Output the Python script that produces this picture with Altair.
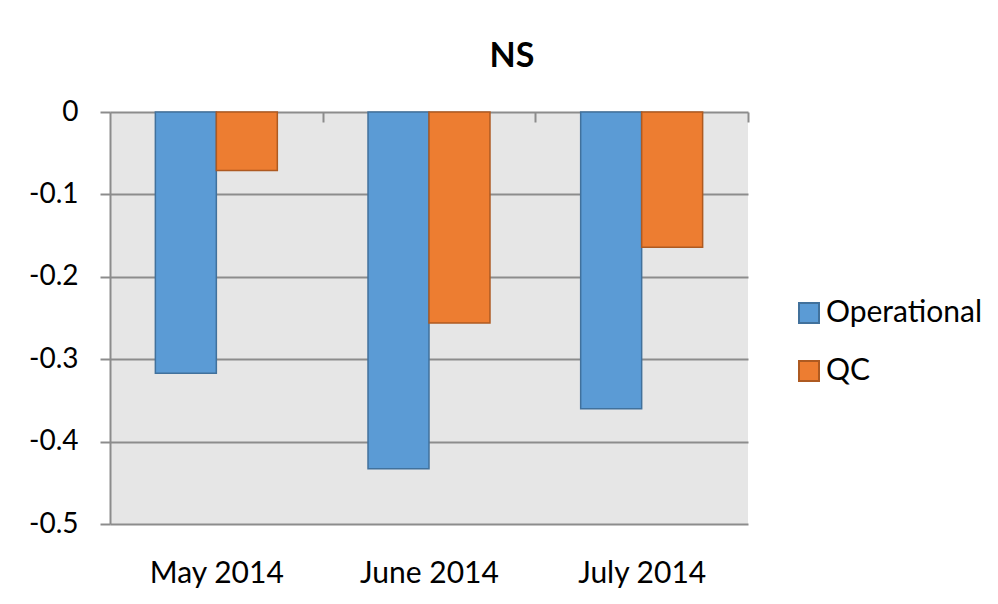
import altair as alt
import pandas as pd

months = ["May 2014", "June 2014", "July 2014"]
series = ["Operational", "QC"]
operational = [-0.317, -0.433, -0.360]
qc = [-0.071, -0.256, -0.164]
y_ticks = [0, -0.1, -0.2, -0.3, -0.4, -0.5]
fill_colors = ["#5B9BD5", "#ED7D31"]
stroke_colors = ["#41719C", "#AE5A21"]

rows = []
for i, m in enumerate(months):
    rows.append({"month": m, "series": series[0], "value": operational[i]})
    rows.append({"month": m, "series": series[1], "value": qc[i]})
df = pd.DataFrame(rows)

FONT = "Lato"
GRAY = "#8c8c8c"
W = 638
HALF_STEP = W / len(months) / 2

x_scale = alt.Scale(domain=months, paddingInner=0.4265, paddingOuter=0.2133)

chart = alt.Chart(df).mark_bar(strokeWidth=1.5).encode(
    x=alt.X("month:N", sort=months, scale=x_scale,
            axis=alt.Axis(orient="top", title=None, domain=False,
                          ticks=True, tickBand="center", tickOffset=HALF_STEP,
                          tickSize=10, offset=-10,
                          tickColor=GRAY, tickWidth=2, zindex=1,
                          labelAngle=0, labelFontSize=30, labelFont=FONT,
                          labelOffset=-HALF_STEP,
                          labelColor="#000000", labelPadding=-461,
                          labelBaseline="middle", grid=False)),
    xOffset=alt.XOffset("series:N", sort=series,
                        scale=alt.Scale(paddingInner=0, paddingOuter=0)),
    y=alt.Y("value:Q", scale=alt.Scale(domain=[-0.5, 0], nice=False, zero=False),
            axis=alt.Axis(title=None, values=y_ticks,
                          labelExpr="datum.value == 0 ? '0' : '-' + format(abs(datum.value), '.1f')",
                          labelFontSize=28, labelFont=FONT, labelColor="#000000",
                          labelPadding=22, tickSize=10, tickColor=GRAY,
                          tickWidth=2, domainColor=GRAY, domainWidth=2,
                          grid=True, gridColor=GRAY, gridWidth=2)),
    color=alt.Color("series:N", sort=series,
                    scale=alt.Scale(domain=series, range=fill_colors),
                    legend=alt.Legend(title=None, orient="none", legendX=684,
                                      legendY=186, symbolType="square",
                                      symbolSize=400, symbolStrokeWidth=2,
                                      labelFontSize=30, labelFont=FONT,
                                      labelColor="#000000", rowPadding=28,
                                      labelOffset=2, padding=0)),
    stroke=alt.Stroke("series:N", sort=series,
                      scale=alt.Scale(domain=series, range=stroke_colors),
                      legend=None),
).properties(
    width=W,
    height=412,
    autosize=alt.AutoSizeParams(type="none"),
    padding={"left": 102, "top": 104, "right": 240, "bottom": 68},
    title=alt.TitleParams("NS", fontSize=34, fontWeight="bold", font=FONT,
                          color="#000000", anchor="middle", dx=83, offset=24),
).configure(background="#FFFFFF").configure_view(fill="#E6E6E6", stroke=None)

chart.save("out.html", embed_options={"renderer": "svg", "actions": False})
